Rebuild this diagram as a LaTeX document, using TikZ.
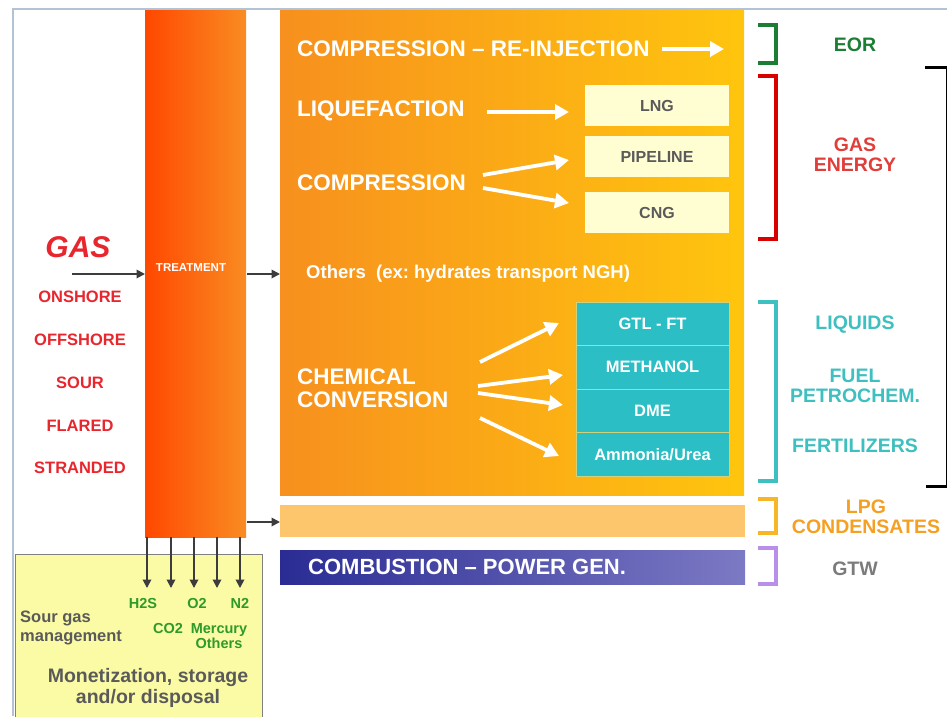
\documentclass[tikz,border=0pt]{standalone}
\usepackage{fontspec}
\setmainfont{Liberation Sans}
\usetikzlibrary{arrows.meta}
\definecolor{frameblue}{HTML}{B4C2D6}
\definecolor{treatL}{HTML}{FF4800}
\definecolor{treatR}{HTML}{F98C22}
\definecolor{mainL}{HTML}{F7901E}
\definecolor{mainR}{HTML}{FFC50E}
\definecolor{lpgbar}{HTML}{FDC66C}
\definecolor{combL}{HTML}{2A2C94}
\definecolor{combR}{HTML}{7C7AC4}
\definecolor{cream}{HTML}{FFFED2}
\definecolor{tealbox}{HTML}{2BBEC4}
\definecolor{tealtxt}{HTML}{3EBFC0}
\definecolor{sepline}{HTML}{CFD27A}
\definecolor{sourbox}{HTML}{FBFBA6}
\definecolor{redtxt}{HTML}{E8262E}
\definecolor{gasred}{HTML}{E03E3A}
\definecolor{eorgreen}{HTML}{1C7E34}
\definecolor{btgreen}{HTML}{2E9A2A}
\definecolor{lpgorange}{HTML}{F4A022}
\definecolor{lpgbrk}{HTML}{F7B626}
\definecolor{gtwpurple}{HTML}{B890EA}
\definecolor{greytxt}{HTML}{5A5A5A}
\definecolor{arrowgrey}{HTML}{3C3C3C}
\tikzset{
  box/.style={anchor=north west, inner sep=0pt, outer sep=0pt},
  fs/.style={font=\bfseries\fontsize{#1}{#1}\selectfont},
  wtxt/.style={fs=22.5, text=white, anchor=west, inner sep=0pt},
  darr/.style={draw=arrowgrey, line width=1.8pt, -{Triangle[length=8.5pt,width=8.5pt]}},
  warr/.style={draw=white, line width=3.8pt, -{Triangle[length=14pt,width=15pt]}},
  brk/.style={line width=3.6pt, line cap=rect},
  cell/.style={box, fill=tealbox, draw=sepline, line width=1pt, minimum width=153pt, minimum height=43.5pt, text=white, fs=16.5},
  creambox/.style={box, fill=cream, minimum width=144pt, minimum height=41pt, text=greytxt, fs=16},
  rlab/.style={fs=19.5, inner sep=0pt, align=center}
}
\begin{document}
\begin{tikzpicture}[x=1pt,y=-1pt]
\useasboundingbox (0,0) rectangle (947,716);
\fill[white] (0,0) rectangle (947,716);
% frame
\draw[frameblue, line width=1.5pt] (13,716) -- (13,9) -- (947,9);
% main blocks
\node[box, left color=mainL, right color=mainR, minimum width=464pt, minimum height=485pt] (main) at (280,10) {};
\node[box, fill=lpgbar, minimum width=465pt, minimum height=32pt] (lpg) at (280,505) {};
\node[box, left color=combL, right color=combR, minimum width=465pt, minimum height=34pt] (comb) at (280,550) {};
\node[box, fill=sourbox, draw=gray, line width=0.8pt, minimum width=247pt, minimum height=170pt] (sour) at (15,554) {};
\node[box, left color=treatL, right color=treatR, minimum width=101pt, minimum height=527pt] (treat) at (145,10) {};
\node[fs=11.5, text=white, inner sep=0pt] (treattxt) at (191,268) {TREATMENT};
% left labels
\node[font=\bfseries\itshape\fontsize{30}{30}\selectfont, text=redtxt, inner sep=0pt] (gas) at (78,247) {GAS};
\node[fs=16.5, text=redtxt, inner sep=0pt] (onshore) at (80,297) {ONSHORE};
\node[fs=16.5, text=redtxt, inner sep=0pt] (offshore) at (80,340) {OFFSHORE};
\node[fs=16.5, text=redtxt, inner sep=0pt] (sour1) at (80,383) {SOUR};
\node[fs=16.5, text=redtxt, inner sep=0pt] (flared) at (80,426) {FLARED};
\node[fs=16.5, text=redtxt, inner sep=0pt] (stranded) at (80,468) {STRANDED};
% grey arrows
\coordinate (gasstart) at (72,274);
\draw[darr] (gasstart) -- (treat.west |- gasstart);
\coordinate (tm) at (247,274);
\draw[darr] (tm) -- (main.west |- tm);
\coordinate (tl) at (247,522);
\draw[darr] (tl) -- (lpg.west |- tl);
\foreach \i/\x in {1/147,2/171,3/194,4/217,5/240}{
  \coordinate (d\i) at (\x,588);
  \draw[darr] (treat.south -| d\i) -- (d\i);
}
% main box texts
\node[wtxt] (cri) at (297,49) {COMPRESSION -- RE-INJECTION};
\coordinate (eorarr) at (724,49);
\draw[warr] (cri.east) ++(12,0) coordinate (crie) (crie) -- (eorarr);
\node[wtxt] (liq) at (297,111) {LIQUEFACTION};
\node[creambox] (lng) at (585,85) {LNG};
\node[creambox] (pipe) at (585,136) {PIPELINE};
\node[creambox] (cng) at (585,192) {CNG};
\coordinate (liqs) at (487,112);
\draw[warr] (liqs) -- ([xshift=-16pt]lng.west |- liqs);
\node[wtxt] (comp) at (297,183) {COMPRESSION};
\coordinate (cs1) at (483,175);
\coordinate (ce1) at (569,160);
\coordinate (cs2) at (483,188);
\coordinate (ce2) at (569,203);
\draw[warr] (cs1) -- (ce1);
\draw[warr] (cs2) -- (ce2);
\node[fs=18.5, text=white, anchor=west, inner sep=0pt] (others) at (306,274) {Others\ \ (ex:\ hydrates\ transport\ NGH)};
\node[wtxt, align=left] (chem) at (297,388) {CHEMICAL\\[1pt]CONVERSION};
\node[cell] (gtl) at (576,302) {GTL - FT};
\node[cell] (meth) at (576,345.5) {METHANOL};
\node[cell] (dme) at (576,389) {DME};
\node[cell] (amm) at (576,432.5) {Ammonia/Urea};
\coordinate (ks1) at (480,362);
\coordinate (ke1) at (559,323);
\coordinate (ks2) at (478,386);
\coordinate (ke2) at (563,375);
\coordinate (ks3) at (478,393);
\coordinate (ke3) at (563,405);
\coordinate (ks4) at (480,418);
\coordinate (ke4) at (559,456);
\foreach \i in {1,2,3,4}{\draw[warr] (ks\i) -- (ke\i);}
\node[fs=22, text=white, anchor=west, inner sep=0pt] (combtxt) at (308,567) {COMBUSTION -- POWER GEN.};
% right brackets
\draw[brk, eorgreen] (760,25) -- (776,25) -- (776,63) -- (760,63);
\draw[brk, red!85!black] (760,76) -- (776,76) -- (776,239) -- (760,239);
\draw[brk, tealtxt] (760,302) -- (776,302) -- (776,481) -- (760,481);
\draw[brk, lpgbrk] (760,499) -- (776,499) -- (776,533) -- (760,533);
\draw[brk, gtwpurple] (760,548) -- (776,548) -- (776,584) -- (760,584);
\node[rlab, text=eorgreen] (eor) at (855,45) {EOR};
\node[rlab, text=gasred] (gasen) at (855,155) {GAS\\ENERGY};
\node[rlab, text=tealtxt] (liquids) at (855,325) {LIQUIDS};
\node[rlab, text=tealtxt] (fuel) at (855,386) {FUEL\\PETROCHEM.};
\node[rlab, text=tealtxt] (fert) at (855,446) {FERTILIZERS};
\node[rlab, text=lpgorange] (lpgt) at (866,517) {LPG\\CONDENSATES};
\node[rlab, text=greytxt!80] (gtw) at (855,569) {GTW};
% black outer bracket
\draw[black, line width=3pt] (925,67) -- (947,67);
\draw[black, line width=3pt] (926,486) -- (947,486);
\draw[black, line width=1pt] (946,67) -- (946,486);
% bottom box texts
\node[fs=14.5, text=btgreen, inner sep=0pt] (h2s) at (143,603) {H2S};
\node[fs=14.5, text=btgreen, inner sep=0pt] (o2) at (197,603) {O2};
\node[fs=14.5, text=btgreen, inner sep=0pt] (n2) at (240,603) {N2};
\node[fs=14.5, text=btgreen, inner sep=0pt] (co2) at (168,628) {CO2};
\node[fs=14.5, text=btgreen, inner sep=0pt, align=center] (merc) at (219,636) {Mercury\\Others};
\node[fs=16.5, text=greytxt, inner sep=0pt, anchor=west, align=left] (sgm) at (20,628) {Sour gas\\[3pt]management};
\node[fs=19.5, text=greytxt, inner sep=0pt, align=center] (mon) at (148,688) {Monetization, storage\\[2pt]and/or disposal};
\end{tikzpicture}
\end{document}
